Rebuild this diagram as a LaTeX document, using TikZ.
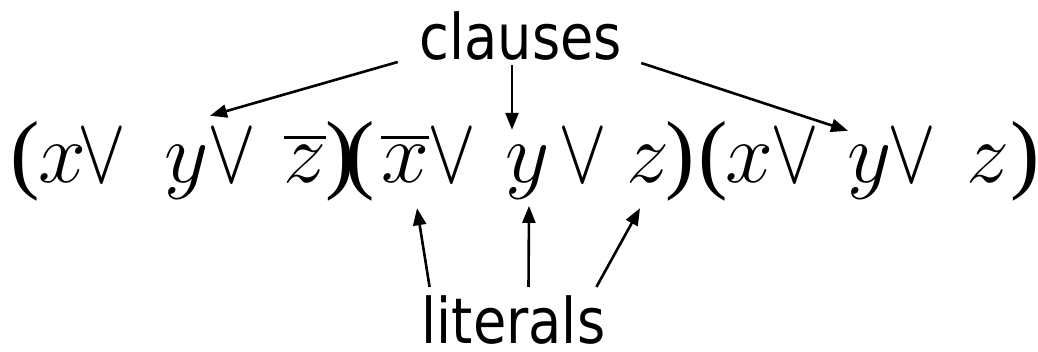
\documentclass[tikz,border=0pt]{standalone}
\usepackage{fix-cm}
\usepackage{fontspec}
\newfontfamily\parenfont{Liberation Serif}
\newfontfamily\lblfont[FakeStretch=0.86]{DejaVu Sans}
\usepackage{graphicx}
\usepackage{tikz}
\usetikzlibrary{arrows.meta}
\newcommand{\barred}[1]{\vbox{\hrule height 3.2pt\kern 7pt\hbox{#1}}}
\newcommand{\orsym}{\scalebox{0.85}[1.1]{$\vee$}}

\begin{document}
\begin{tikzpicture}[
    x=1pt, y=1pt,
    lbl/.style={inner sep=0pt, anchor=base, font=\lblfont\fontsize{63}{63}\selectfont},
    sym/.style={inner sep=0pt, anchor=base, font=\fontsize{86}{86}\selectfont},
    paren/.style={inner sep=0pt, anchor=base, font=\parenfont\fontsize{88}{88}\selectfont},
    arr/.style={-{Triangle[length=17pt,width=13pt]}, line width=2.6pt}
]
\useasboundingbox (0,0) rectangle (1038,351);
\node[lbl] (clauses) at (521,291) {clauses};
\node[lbl] (literals) at (513.5,8) {literals};
\node[paren] (lp1) at (25,168) {(};
\node[sym] (x1) at (62,168) {$x$};
\node[sym] (y1) at (187,168) {$y$};
\node[sym] (z1) at (305,168) {\barred{$z$}};
\node[paren] (rp1) at (340,168) {)};
\node[paren] (lp2) at (360,168) {(};
\node[sym] (x2) at (405,168) {\barred{$x$}};
\node[sym] (y2) at (528,168) {$y$};
\node[sym] (z2) at (648,168) {$z$};
\node[paren] (rp2) at (680,168) {)};
\node[paren] (lp3) at (713,168) {(};
\node[sym] (x3) at (749,168) {$x$};
\node[sym] (y3) at (870,168) {$y$};
\node[sym] (z3) at (988,168) {$z$};
\node[paren] (rp3) at (1025,168) {)};
\foreach \x/\n in {102/o1,232/o2,452/o3,583/o4,795/o5,912/o6}
  \node[sym] (\n) at (\x,168) {\orsym};
\draw[arr] ([shift={(-22pt,-2pt)}]clauses.base west) -- ([shift={(23pt,30pt)}]y1.north);
\draw[arr] ([shift={(-9pt,-5pt)}]clauses.base) -- ([shift={(-16pt,16pt)}]y2.north);
\draw[arr] ([shift={(19pt,-3pt)}]clauses.base east) -- ([shift={(-22pt,15pt)}]y3.north);
\draw[arr] ([shift={(8pt,8pt)}]literals.north west) -- ([shift={(12pt,-25pt)}]x2.south);
\draw[arr] ([shift={(15pt,8pt)}]literals.north) -- ([shift={(1pt,-6pt)}]y2.south);
\draw[arr] ([shift={(-9pt,8pt)}]literals.north east) -- ([shift={(-8pt,-25pt)}]z2.south);
\end{tikzpicture}
\end{document}
